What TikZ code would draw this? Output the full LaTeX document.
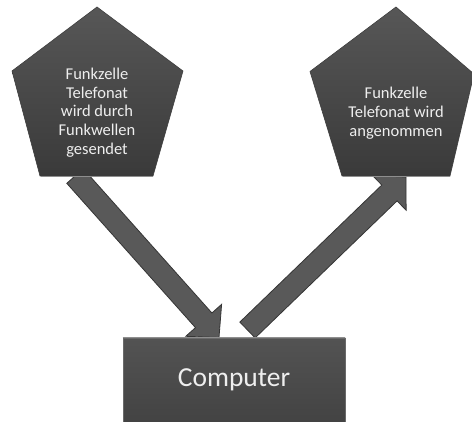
\documentclass[tikz,border=0pt]{standalone}
\usepackage{fontspec}
\setmainfont{Carlito}
\usetikzlibrary{calc}

\definecolor{pentTop}{HTML}{575757}
\definecolor{pentBot}{HTML}{3A3A3A}
\definecolor{pentEdge}{HTML}{3E3E3E}
\definecolor{arrowFill}{HTML}{595959}
\definecolor{arrowLine}{HTML}{353535}
\definecolor{boxTop}{HTML}{535353}
\definecolor{boxBot}{HTML}{434343}
\definecolor{boxEdge}{HTML}{6A6A6A}
\definecolor{labelText}{HTML}{EEEEEE}
\definecolor{bevel}{HTML}{8E8E8E}

% block arrow from tail #1 to tip #2: shaft, neck and triangular head
\newcommand\blockarrow[2]{%
  \coordinate (neck) at ($(#2)!23pt!(#1)$);
  \draw[arrowbody]
    ($(#1)!11pt!90:(#2)$) -- ($(neck)!11pt!90:(#2)$) -- ($(neck)!24pt!90:(#2)$)
    -- (#2)
    -- ($(neck)!24pt!-90:(#2)$) -- ($(neck)!11pt!-90:(#2)$) -- ($(#1)!11pt!-90:(#2)$)
    -- cycle;}

\begin{document}
\begin{tikzpicture}[x=1pt,y=-1pt,
  arrowbody/.style={fill=arrowFill, draw=arrowLine, line width=0.8pt, line join=miter},
  pentagon/.style={top color=pentTop, bottom color=pentBot, draw=pentEdge, line width=0.6pt},
  celltext/.style={align=center, text=labelText, inner sep=0pt,
    font=\fontsize{16.5}{18.8}\selectfont},
  computerbox/.style={rectangle, minimum width=222pt, minimum height=84pt, inner sep=0pt,
    top color=boxTop, bottom color=boxBot, draw=boxEdge, line width=0.6pt,
    text=labelText, font=\fontsize{27.5}{33}\selectfont}]

\useasboundingbox (0,0) rectangle (472,422);
\fill[white] (0,0) rectangle (472,422);
\clip (0,0) rectangle (472,422);

% arrow end points
\coordinate (sendTail) at (75,176);
\coordinate (sendTip) at (219,337.5);
\coordinate (recvTail) at (247.5,330);
\coordinate (recvTip) at (406,177);

\blockarrow{sendTail}{sendTip}
\blockarrow{recvTail}{recvTip}

% radio cells
\path[pentagon] (97,7) -- (183,71) -- (153,176) -- (40,176) -- (12,71) -- cycle;
\draw[bevel, line width=1pt] (40.5,176.8) -- (152.5,176.8);
\path[pentagon] (396,7) -- (474,74) -- (450,176) -- (342,176) -- (310,71.5) -- cycle;
\draw[bevel, line width=1pt] (342.5,176.8) -- (449.5,176.8);

\node[celltext] (sender) at (97,112.5)
  {Funkzelle\\Telefonat\\wird durch\\Funkwellen\\gesendet};
\node[celltext] (receiver) at (396,113)
  {Funkzelle\\Telefonat wird\\angenommen};

% computer
\node[computerbox] (computer) at (234,380) {Computer};
\draw[bevel, line width=1.2pt] (computer.north west) -- (computer.north east);

\end{tikzpicture}
\end{document}
